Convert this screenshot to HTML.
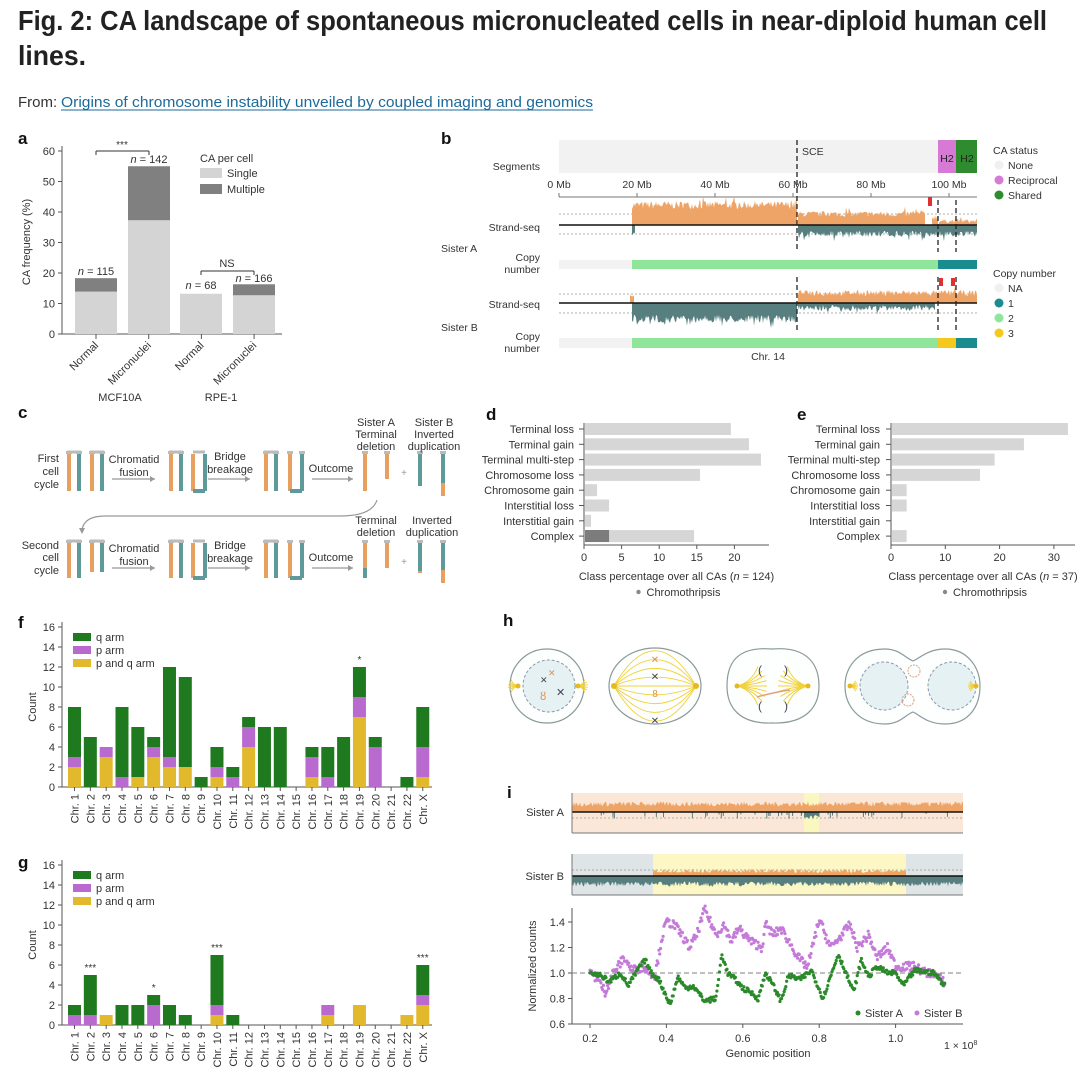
<!DOCTYPE html>
<html><head><meta charset="utf-8"><style>
html,body{margin:0;padding:0;background:#fff;}
svg{display:block;font-family:"Liberation Sans",Arial,sans-serif;}
.t{font-size:10.5px;fill:#333;}
.lab{font-size:17px;font-weight:bold;fill:#111;}
</style></head><body>
<svg id="s" width="1080" height="1072" viewBox="0 0 1080 1072" xmlns="http://www.w3.org/2000/svg">
<rect width="1080" height="1072" fill="#fff"/>
<text x="18" y="30" font-size="28" font-weight="bold" fill="#222" textLength="1029" lengthAdjust="spacingAndGlyphs">Fig. 2: CA landscape of spontaneous micronucleated cells in near-diploid human cell</text>
<text x="18" y="65" font-size="28" font-weight="bold" fill="#222" textLength="68" lengthAdjust="spacingAndGlyphs">lines.</text>
<text x="18" y="107" font-size="15" fill="#333">From: </text>
<text x="61" y="107" font-size="15" fill="#1b6a9a" textLength="532" lengthAdjust="spacingAndGlyphs">Origins of chromosome instability unveiled by coupled imaging and genomics</text>
<line x1="61" y1="110" x2="593" y2="110" stroke="#1b6a9a" stroke-width="1"/>

<!-- labels -->
<text class="lab" x="18" y="144">a</text>
<text class="lab" x="441" y="144">b</text>
<text class="lab" x="18" y="418">c</text>
<text class="lab" x="486" y="420">d</text>
<text class="lab" x="797" y="420">e</text>
<text class="lab" x="18" y="628">f</text>
<text class="lab" x="18" y="868">g</text>
<text class="lab" x="503" y="626">h</text>
<text class="lab" x="507" y="798">i</text>

<g id="gen"></g>
</svg>
<script>
var S=document.getElementById('gen');var NS='http://www.w3.org/2000/svg';
function el(t,a,txt){var e=document.createElementNS(NS,t);for(var k in a)e.setAttribute(k,a[k]);if(txt!==undefined)e.textContent=txt;S.appendChild(e);return e;}
function R(x,y,w,h,f){return el('rect',{x:x,y:y,width:w,height:h,fill:f});}
function L(x1,y1,x2,y2,c,w,d){var a={x1:x1,y1:y1,x2:x2,y2:y2,stroke:c||'#555','stroke-width':w||1};if(d)a['stroke-dasharray']=d;return el('line',a);}
function T(x,y,s,o){o=o||{};var a={x:x,y:y,'font-size':o.fs||10.5,fill:o.c||'#333','text-anchor':o.a||'start'};if(o.tr)a.transform=o.tr;if(o.fw)a['font-weight']=o.fw;if(o.fst)a['font-style']=o.fst;return el('text',a,s);}
var seed=7;function rnd(){seed=(seed*16807)%2147483647;return (seed-1)/2147483646;}
// ===== Panel a =====
(function(){var y0=334,u=(334-151)/60;
L(62,146,62,334,'#555');L(62,334,282,334,'#555');
for(var v=0;v<=60;v+=10){var y=y0-v*u;L(58,y,62,y);T(55,y+4,String(v),{a:'end',fs:11});}
T(30,242,'CA frequency (%)',{a:'middle',fs:11,tr:'rotate(-90 30 242)'});
var bars=[[75,13.9,18.3],[128,37.3,55],[180,13.2,13.2],[233,12.7,16.3]];
bars.forEach(function(b){R(b[0],y0-b[1]*u,42,b[1]*u,'#d4d4d4');R(b[0],y0-b[2]*u,42,(b[2]-b[1])*u,'#808080');});
var nl=[[96,275,'115'],[149,163,'142'],[201,289,'68'],[254,282,'166']];
nl.forEach(function(n){var t=T(n[0],n[1],'',{a:'middle',fs:11});var a=document.createElementNS(NS,'tspan');a.setAttribute('font-style','italic');a.textContent='n';t.appendChild(a);t.appendChild(document.createTextNode(' = '+n[2]));});
L(96,151,149,151,'#333');L(96,151,96,155,'#333');L(149,151,149,155,'#333');T(122,148,'***',{a:'middle',fs:10});
L(201,271,254,271,'#333');L(201,271,201,275,'#333');L(254,271,254,275,'#333');T(227,267,'NS',{a:'middle',fs:11});
['Normal','Micronuclei','Normal','Micronuclei'].forEach(function(s,i){var x=96+i*52.7;L(x,334,x,339);T(x+3,346,s,{a:'end',fs:11,tr:'rotate(-45 '+(x+3)+' 346)'});});
T(120,401,'MCF10A',{a:'middle',fs:11});T(221,401,'RPE-1',{a:'middle',fs:11});
T(200,162,'CA per cell',{fs:11});R(200,168,22,10,'#d4d4d4');T(227,177,'Single',{fs:11});R(200,184,22,10,'#808080');T(227,193,'Multiple',{fs:11});
})();
// ===== Panel b =====
(function(){
var X=function(mb){return 559+mb*3.9;};
R(559,140,418,33,'#f2f2f2');R(938,140,18,33,'#d77ad6');R(956,140,21,33,'#2e8b2e');
T(947,162,'H2',{a:'middle',fs:10.5,c:'#222'});T(967,162,'H2',{a:'middle',fs:10.5,c:'#222'});
T(802,155,'SCE',{fs:10.5});
T(540,170,'Segments',{a:'end',fs:10.5});
L(559,197,977,197,'#777');
for(var m=0;m<=100;m+=20){L(X(m),193,X(m),197,'#777');T(X(m),188,m+' Mb',{a:'middle',fs:10.5});}
function jag(x0,x1,base,h,vv,dir,col){var d='M'+x0+' '+base;for(var x=x0;x<=x1;x+=1){var hh=h+(rnd()-0.5)*vv*2;if(rnd()<0.05)hh+=vv*1.5;d+=' L'+x+' '+(base-dir*Math.max(0,hh));}d+=' L'+x1+' '+base+' Z';el('path',{d:d,fill:col});}
var OR='#eea466',TE='#587f80';
// Sister A
L(559,214,977,214,'#999',0.8,'2 2');L(559,234,977,234,'#999',0.8,'2 2');
jag(632,797,225,20,4,1,OR);jag(798,925,225,11,3,1,OR);jag(932,938,225,8,3,1,OR);jag(939,977,225,4,2,1,OR);
jag(798,977,225,9,3,-1,TE);jag(632,635,225,8,2,-1,TE);
L(559,225,977,225,'#111',1.6);R(928,197,4,9,'#e03030');
R(559,260,73,9,'#f2f2f2');R(632,260,306,9,'#8fe69b');R(938,260,39,9,'#1a8c8f');
// Sister B
L(559,294,977,294,'#999',0.8,'2 2');L(559,313,977,313,'#999',0.8,'2 2');
jag(632,797,303,16,4,-1,TE);jag(798,977,303,10,3,1,OR);jag(798,935,303,5,3,-1,TE);jag(630,634,303,8,2,1,OR);
L(559,303,977,303,'#111',1.6);R(939,278,4,8,'#e03030');R(951,278,4,8,'#e03030');
R(559,338,73,10,'#f2f2f2');R(632,338,306,10,'#8fe69b');R(938,338,18,10,'#f5c81e');R(956,338,21,10,'#1a8c8f');
[[797,140,252],[797,277,331],[938,200,252],[956,200,252],[938,277,331],[956,277,331]].forEach(function(d){L(d[0],d[1],d[0],d[2],'#222',1.3,'5 3');});
T(768,360,'Chr. 14',{a:'middle',fs:10.5});
T(540,231,'Strand-seq',{a:'end'});T(441,252,'Sister A');T(540,261,'Copy',{a:'end'});T(540,273,'number',{a:'end'});
T(540,308,'Strand-seq',{a:'end'});T(441,331,'Sister B');T(540,340,'Copy',{a:'end'});T(540,352,'number',{a:'end'});
T(993,154,'CA status');
[['None','#f0f0f0',169],['Reciprocal','#d77ad6',184],['Shared','#2e8b2e',199]].forEach(function(l){el('circle',{cx:999,cy:l[2]-4,r:4.5,fill:l[1]});T(1008,l[2],l[0]);});
T(993,277,'Copy number');
[['NA','#f0f0f0',292],['1','#1a8c8f',307],['2','#8fe69b',322],['3','#f5c81e',337]].forEach(function(l){el('circle',{cx:999,cy:l[2]-4,r:4.5,fill:l[1]});T(1008,l[2],l[0]);});
})();
// ===== Panel c =====
(function(){
var OR='#e8a060',TE='#5f9a9a',GR='#bbb';
function chrom(x,y1,y2,col,cap){R(x-2,y1,4,y2-y1,col);if(cap)R(x-3,y1-3,6,3,GR);}
function pair(x,y1,y2){chrom(x,y1,y2,OR,1);chrom(x+10,y1,y2,TE,1);L(x-2,y1-2,x+12,y1-2,GR,3);}
function row(yA,yB,second){
 pair(69,yA,yB);pair(92,yA,yB-(second?6:0));
 pair(171,yA,yB);L(193,yA-2,205,yA-2,GR,3);chrom(193,yA,yB,OR,0);chrom(205,yA,yB,TE,0);L(193,yB,205,yB,TE,4);
 pair(266,yA,yB);chrom(290,yA,yB,OR,1);chrom(302,yA,yB,TE,1);L(290,yB,302,yB,TE,4);
 chrom(365,yA,yB,OR,1);chrom(387,yA,yA+25,OR,1);chrom(420,yA,yB-5,TE,1);chrom(443,yA,yB+5,TE,1);R(441,yB-8,4,13,OR);
 if(second){R(363,yA+25,4,yB-yA-25,TE);R(418,yA+28,4,yB-yA-33,OR);}
 T(404,yA+22,'+',{a:'middle',fs:10,c:'#999'});
 [[112,155],[208,250],[312,353]].forEach(function(a){L(a[0],yA+25,a[1],yA+25,'#999',1.2);el('path',{d:'M'+a[1]+' '+(yA+25)+' l-5 -3 v6z',fill:'#999'});});
}
row(454,491,0);row(543,578,1);
T(59,462,'First',{a:'end',fs:11});T(59,475,'cell',{a:'end',fs:11});T(59,488,'cycle',{a:'end',fs:11});
T(59,549,'Second',{a:'end',fs:11});T(59,561,'cell',{a:'end',fs:11});T(59,574,'cycle',{a:'end',fs:11});
[[463,476],[552,565]].forEach(function(y){T(134,y[0],'Chromatid',{a:'middle',fs:11});T(134,y[1],'fusion',{a:'middle',fs:11});T(230,y[0]-3,'Bridge',{a:'middle',fs:11});T(230,y[1]-3,'breakage',{a:'middle',fs:11});T(331,y[1]-4,'Outcome',{a:'middle',fs:11});});
T(376,426,'Sister A',{a:'middle',fs:11});T(376,438,'Terminal',{a:'middle',fs:11});T(376,450,'deletion',{a:'middle',fs:11});
T(434,426,'Sister B',{a:'middle',fs:11});T(434,438,'Inverted',{a:'middle',fs:11});T(434,450,'duplication',{a:'middle',fs:11});
T(376,524,'Terminal',{a:'middle',fs:11});T(376,536,'deletion',{a:'middle',fs:11});T(432,524,'Inverted',{a:'middle',fs:11});T(432,536,'duplication',{a:'middle',fs:11});
el('path',{d:'M377 500 Q372 516 340 516 L105 516 Q84 516 82 530',fill:'none',stroke:'#999','stroke-width':1.2});
el('path',{d:'M82 534 l-3 -6 h6z',fill:'#999'});
})();
// ===== Panels d,e =====
function hbar(x0,u,vals,dark,ticks,tl,xEnd,labX){
 var names=['Terminal loss','Terminal gain','Terminal multi-step','Chromosome loss','Chromosome gain','Interstitial loss','Interstitial gain','Complex'];
 L(x0,423,x0,545,'#555');L(x0,545,xEnd,545,'#555');
 names.forEach(function(n,i){var y=429+i*15.3;L(x0-5,y,x0,y,'#555');T(labX,y+4,n,{a:'end',fs:11});if(vals[i]>0)R(x0+1,y-6,vals[i]*u,12,'#d6d6d6');});
 if(dark)R(x0+1,536-6,dark*u,12,'#7c7c7c');
 ticks.forEach(function(t){var x=x0+t*u;L(x,545,x,549,'#555');T(x,561,String(t),{a:'middle',fs:11});});
 var cx=(x0+xEnd)/2;var t=T(cx,580,'Class percentage over all CAs (',{a:'middle',fs:11});var sp=document.createElementNS(NS,'tspan');sp.setAttribute('font-style','italic');sp.textContent='n';t.appendChild(sp);t.appendChild(document.createTextNode(' = '+tl+')'));
 el('circle',{cx:cx-38,cy:592,r:2.2,fill:'#888'});T(cx-30,596,'Chromothripsis',{fs:11});
}
hbar(584,7.52,[19.4,21.8,23.4,15.3,1.6,3.2,0.8,14.5],3.2,[0,5,10,15,20],124,769,574);
hbar(891,5.43,[32.4,24.3,18.9,16.2,2.7,2.7,0,2.7],0,[0,10,20,30],37,1075,880);
// ===== Panels f,g =====
function stack(y0,data,stars){
 var u=10;L(62,y0-165,62,y0,'#555');L(62,y0,432,y0,'#555');
 for(var v=0;v<=16;v+=2){var y=y0-v*u;L(58,y,62,y);T(55,y+4,String(v),{a:'end',fs:11});}
 T(36,y0-80,'Count',{a:'middle',fs:11,tr:'rotate(-90 36 '+(y0-80)+')'});
 data.forEach(function(d,i){var x=68+i*15.83;var pq=d[0],p=d[1],q=d[2];var y=y0;
  if(pq){R(x,y-pq*u,13,pq*u,'#e2b92c');y-=pq*u;} if(p){R(x,y-p*u,13,p*u,'#b86ace');y-=p*u;} if(q){R(x,y-q*u,13,q*u,'#1f7a1f');y-=q*u;}
  if(stars[i])T(x+6.5,y-4,stars[i],{a:'middle',fs:10});
  var cx=x+6.5;L(cx,y0,cx,y0+4);var lab='Chr. '+(i==22?'X':(i+1));T(cx+4,y0+7,lab,{a:'end',fs:11,tr:'rotate(-90 '+(cx+4)+' '+(y0+7)+')'});
 });
 var ly=y0-149;[['q arm','#1f7a1f'],['p arm','#b86ace'],['p and q arm','#e2b92c']].forEach(function(l,i){R(73,ly+i*13-5,18,8,l[1]);T(96,ly+i*13+3,l[0],{fs:11});});
}
stack(787,[[2,1,5],[0,0,5],[3,1,0],[0,1,7],[1,0,5],[3,1,1],[2,1,9],[2,0,9],[0,0,1],[1,1,2],[0,1,1],[4,2,1],[0,0,6],[0,0,6],[0,0,0],[1,2,1],[0,1,3],[0,0,5],[7,2,3],[0,4,1],[0,0,0],[0,0,1],[1,3,4]],{18:'*'});
stack(1025,[[0,1,1],[0,1,4],[1,0,0],[0,0,2],[0,0,2],[0,2,1],[0,0,2],[0,0,1],[0,0,0],[1,1,5],[0,0,1],[0,0,0],[0,0,0],[0,0,0],[0,0,0],[0,0,0],[1,1,0],[0,0,0],[2,0,0],[0,0,0],[0,0,0],[1,0,0],[2,1,3]],{1:'***',5:'*',9:'***',22:'***'});
// ===== Panel h =====
(function(){
var CE='#8a9a9a',Y='#f2d23a';
function spindle(cx,cy,dir,len,n){for(var k=0;k<n;k++){var a=(k/(n-1)-0.5)*1.6;var ex=cx+dir*len*Math.cos(a),ey=cy+len*Math.sin(a)*0.9;el('path',{d:'M'+cx+' '+cy+' Q'+(cx+dir*len*0.5)+' '+(cy+(ey-cy)*0.2)+' '+ex+' '+ey,fill:'none',stroke:Y,'stroke-width':1});}el('circle',{cx:cx,cy:cy,r:2.5,fill:'#e8b820'});}
el('ellipse',{cx:547,cy:686,rx:37,ry:37,fill:'#fdfefe',stroke:CE,'stroke-width':1.2});
el('circle',{cx:549,cy:686,r:26,fill:'#e6f1f4',stroke:'#8a9aa8','stroke-dasharray':'3 2'});
spindle(518,686,-1,10,6);spindle(578,686,1,10,6);
T(540,683,'✕',{fs:9,c:'#445'});T(548,676,'✕',{fs:9,c:'#e0904a'});T(540,700,'ȣ',{fs:11,c:'#e0904a'});T(556,696,'✕',{fs:11,c:'#445'});
el('ellipse',{cx:655,cy:686,rx:46,ry:38,fill:'#fdfefe',stroke:CE,'stroke-width':1.2});
for(var k=-4;k<=4;k++){var dy=k*8;el('path',{d:'M614 686 Q655 '+(686+dy*2.2)+' 696 686',fill:'none',stroke:Y,'stroke-width':0.9});}
el('circle',{cx:614,cy:686,r:3,fill:'#e8b820'});el('circle',{cx:696,cy:686,r:3,fill:'#e8b820'});
T(655,663,'✕',{a:'middle',fs:10,c:'#e0904a'});T(655,680,'✕',{a:'middle',fs:10,c:'#445'});T(655,697,'8',{a:'middle',fs:10,c:'#e0904a'});T(655,724,'✕',{a:'middle',fs:10,c:'#445'});
el('path',{d:'M772 649 C735 646 727 665 727 686 C727 708 740 724 772 723 C805 724 819 708 819 686 C819 665 808 646 772 649Z',fill:'#fdfefe',stroke:CE,'stroke-width':1.2});
spindle(737,686,1,30,9);spindle(808,686,-1,30,9);
el('path',{d:'M757 697 Q775 692 790 690',fill:'none',stroke:'#e0a080','stroke-width':1.5});
[[760,674],[786,674],[760,710],[786,710]].forEach(function(p){T(p[0],p[1],p[0]<770?'(':')',{a:'middle',fs:12,c:'#445'});});
el('path',{d:'M885 649 C855 649 845 670 845 686 C845 705 858 724 885 724 C900 724 905 715 913 712 C920 715 927 724 945 724 C970 724 980 705 980 686 C980 668 968 649 945 649 C928 649 920 658 913 661 C905 658 900 649 885 649Z',fill:'#fdfefe',stroke:CE,'stroke-width':1.2});
el('circle',{cx:884,cy:686,r:24,fill:'#e6f1f4',stroke:'#8a9aa8','stroke-dasharray':'3 2'});
el('circle',{cx:952,cy:686,r:24,fill:'#e6f1f4',stroke:'#8a9aa8','stroke-dasharray':'3 2'});
el('circle',{cx:914,cy:671,r:6,fill:'none',stroke:'#e0a080','stroke-dasharray':'2 1'});el('circle',{cx:908,cy:700,r:6,fill:'none',stroke:'#e0a080','stroke-dasharray':'2 1'});
spindle(850,686,1,8,6);spindle(976,686,-1,8,6);
})();
// ===== Panel i =====
(function(){
var OR='#eea466',TE='#587f80';
function jag(x0,x1,base,h,vv,dir,col){var d='M'+x0+' '+base;for(var x=x0;x<=x1;x+=1){var hh=h+(rnd()-0.5)*vv*2;d+=' L'+x+' '+(base-dir*Math.max(0,hh));}d+=' L'+x1+' '+base+' Z';el('path',{d:d,fill:col});}
R(572,793,391,40,'#fbe7d8');R(804,793,15,40,'#fbf7c0');
L(572,818,963,818,'#999',0.8,'2 2');
jag(572,963,812,8,2.5,1,OR);
for(var k=0;k<40;k++){var x=600+rnd()*350;R(x,812,1,2+rnd()*5,TE);}jag(804,819,812,5,2,-1,TE);
L(572,812,963,812,'#111',1.6);L(572,793,572,833,'#777');L(572,833,963,833,'#777');
T(564,816,'Sister A',{a:'end',fs:11});
R(572,854,391,41,'#dfe5e6');R(653,854,253,41,'#fcf7c4');
L(572,870,963,870,'#999',0.8,'2 2');
jag(653,906,876,5,2,1,OR);jag(572,963,876,8,2.5,-1,TE);
L(572,876,963,876,'#111',1.6);L(572,854,572,895,'#777');L(572,895,963,895,'#777');
T(564,880,'Sister B',{a:'end',fs:11});
// scatter
var px=function(v){return 590+(v-0.2)*382;},py=function(c){return 973-(c-1)*127.5;};
L(572,908,572,1024,'#555');L(572,1024,963,1024,'#555');
[[0.6,'0.6'],[0.8,'0.8'],[1.0,'1.0'],[1.2,'1.2'],[1.4,'1.4']].forEach(function(t){var y=py(t[0]);L(568,y,572,y,'#555');T(565,y+4,t[1],{a:'end',fs:11});});
[0.2,0.4,0.6,0.8,1.0].forEach(function(v){var x=px(v);L(x,1024,x,1028,'#555');T(x,1042,v.toFixed(1),{a:'middle',fs:11});});
T(768,1057,'Genomic position',{a:'middle',fs:11});
var t=T(944,1049,'1 × 10',{fs:10.5});var sp=document.createElementNS(NS,'tspan');sp.setAttribute('dy','-4');sp.setAttribute('font-size','7');sp.textContent='8';t.appendChild(sp);
T(536,966,'Normalized counts',{a:'middle',fs:11,tr:'rotate(-90 536 966)'});
L(572,973,963,973,'#999',1.2,'5 3');
var B=[[0.2,1.0],[0.22,0.95],[0.24,0.85],[0.26,1.0],[0.29,1.12],[0.31,1.02],[0.34,1.05],[0.36,1.0],[0.37,0.98],[0.39,1.3],[0.40,1.4],[0.42,1.38],[0.44,1.3],[0.46,1.2],[0.48,1.3],[0.5,1.5],[0.53,1.3],[0.55,1.38],[0.57,1.25],[0.59,1.35],[0.62,1.25],[0.65,1.2],[0.66,1.38],[0.68,1.3],[0.7,1.35],[0.73,1.2],[0.75,1.1],[0.77,1.05],[0.8,1.42],[0.83,1.2],[0.86,1.3],[0.88,1.38],[0.9,1.2],[0.93,1.3],[0.95,1.12],[0.98,1.2],[1.0,1.05],[1.05,1.05],[1.08,1.0],[1.1,1.0],[1.13,0.92]];
var A=[[0.2,1.0],[0.23,0.98],[0.25,0.93],[0.28,1.0],[0.3,0.9],[0.33,1.05],[0.345,1.1],[0.36,1.0],[0.38,0.95],[0.41,0.75],[0.43,0.97],[0.45,0.88],[0.47,0.9],[0.5,0.78],[0.53,0.8],[0.545,1.15],[0.56,1.0],[0.58,0.95],[0.6,0.88],[0.62,0.85],[0.64,0.8],[0.66,1.0],[0.68,0.9],[0.7,0.78],[0.72,0.98],[0.75,0.95],[0.78,1.02],[0.81,0.8],[0.85,1.15],[0.87,1.0],[0.89,0.85],[0.91,1.1],[0.93,0.97],[0.95,1.05],[0.98,1.0],[1.0,1.0],[1.02,0.9],[1.05,1.02],[1.1,1.0],[1.13,0.9]];
function dots(P,col,nz){for(var v=0.2;v<=1.13;v+=0.0022){var j=0;while(j<P.length-2&&P[j+1][0]<v)j++;var a=P[j],b=P[j+1];var f=(v-a[0])/(b[0]-a[0]);f=Math.max(0,Math.min(1,f));var c=a[1]+(b[1]-a[1])*f+(rnd()-0.5)*nz;el('circle',{cx:px(v),cy:py(c),r:1.6,fill:col});}}
dots(B,'#c47ad8',0.07);dots(A,'#2a8a2a',0.04);
el('circle',{cx:858,cy:1013,r:2.5,fill:'#2a8a2a'});T(865,1017,'Sister A',{fs:11});
el('circle',{cx:917,cy:1013,r:2.5,fill:'#c47ad8'});T(924,1017,'Sister B',{fs:11});
})();
</script>
</body></html>
